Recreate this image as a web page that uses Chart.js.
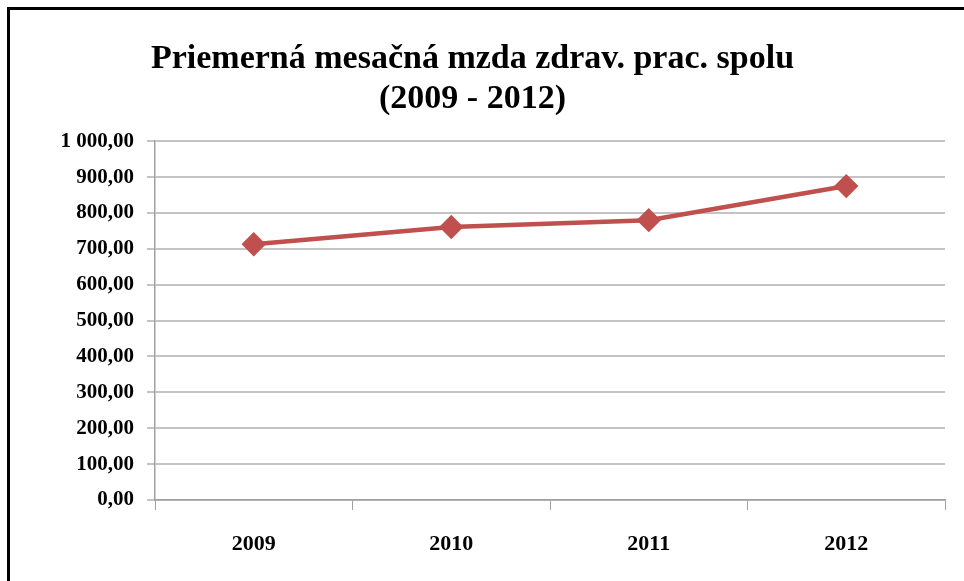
<!DOCTYPE html>
<html>
<head>
<meta charset="utf-8">
<script src="https://cdn.jsdelivr.net/npm/chart.js@4"></script>
<style>
  html, body { margin: 0; padding: 0; background: #fff; }
  #wrap { position: relative; width: 964px; height: 581px; }
  #frame { position: absolute; left: 7px; top: 7px; right: 0; bottom: 0;
           border-top: 3px solid #000; border-left: 3px solid #000; pointer-events: none; }
</style>
</head>
<body>
<div id="wrap">
  <canvas id="chart" width="964" height="581"></canvas>
  <div id="frame"></div>
</div>
<script>
const years = ['2009', '2010', '2011', '2012'];
const wages = [713, 761, 780, 875];
const titleLines = ['Priemerná mesačná mzda zdrav. prac. spolu', '(2009 - 2012)'];

const serif = '"Liberation Serif", "Times New Roman", serif';

function fmt(v) {
    // 1 000,00 style
    let s = v.toFixed(2).replace('.', ',');
    let parts = s.split(',');
    parts[0] = parts[0].replace(/\B(?=(\d{3})+(?!\d))/g, ' ');
    return parts.join(',');
}

const ctx = document.getElementById('chart').getContext('2d');
new Chart(ctx, {
    type: 'line',
    data: {
        labels: years,
        datasets: [{
            data: wages,
            borderColor: '#C0504D',
            backgroundColor: '#C0504D',
            borderWidth: 4.5,
            pointStyle: 'rectRot',
            pointRadius: 9,
            pointHoverRadius: 9,
            tension: 0,
            fill: false,
        }]
    },
    options: {
        responsive: false,
        animation: false,
        layout: { padding: { left: 0, right: 19, top: 0, bottom: 0 } },
        plugins: {
            legend: { display: false },
            tooltip: { enabled: false },
            title: {
                display: true,
                text: titleLines,
                color: '#000',
                font: { family: serif, size: 34, weight: 'bold', lineHeight: 1.18 },
                padding: { top: 39, bottom: 22 }
            }
        },
        scales: {
            x: {
                offset: true,
                grid: {
                    display: true,
                    offset: true,
                    drawOnChartArea: false,
                    drawTicks: true,
                    tickLength: 10,
                    color: '#a0a0a0',
                },
                border: { color: '#a0a0a0', width: 1.5 },
                ticks: {
                    color: '#000',
                    padding: 21,
                    font: { family: serif, size: 22, weight: 'bold' }
                },
                afterFit: (s) => { s.height = 81; }
            },
            y: {
                min: 0,
                max: 1000,
                ticks: {
                    stepSize: 100,
                    color: '#000',
                    padding: 13,
                    font: { family: serif, size: 21, weight: 'bold' },
                    callback: (v) => fmt(v)
                },
                grid: {
                    color: '#c4c4c4',
                    lineWidth: 2,
                    tickLength: 8,
                },
                border: { color: '#a0a0a0', width: 1.5 },
                afterFit: (s) => { s.width = 155; }
            }
        }
    }
});
</script>
</body>
</html>
